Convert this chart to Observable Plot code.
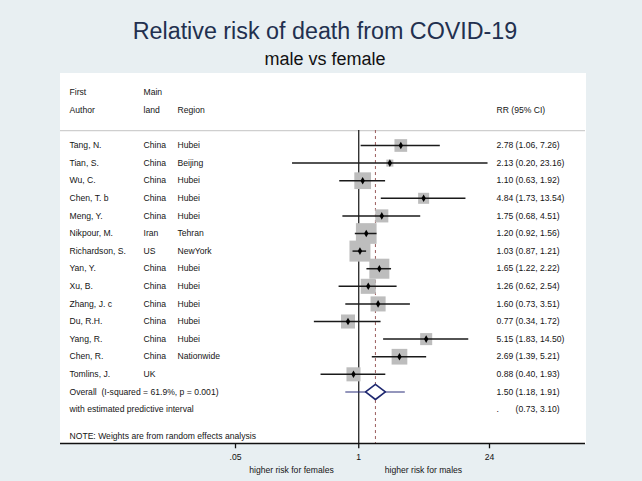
<!DOCTYPE html>
<html><head><meta charset="utf-8">
<script src="https://cdn.jsdelivr.net/npm/d3@7"></script>
<script src="https://cdn.jsdelivr.net/npm/@observablehq/plot@0.6"></script>
<style>
html,body{margin:0;padding:0;background:#e8eff2;}
#wrap{width:642px;height:481px;position:relative;overflow:hidden;font-family:"Liberation Sans",Arial,sans-serif;}
#head{height:73px;position:relative;}
#title{position:absolute;left:4px;width:642px;top:19.5px;line-height:23px;font-size:23.3px;text-align:center;color:#22304f;white-space:nowrap;}
#subtitle{position:absolute;left:4px;width:642px;top:50px;line-height:18px;font-size:18px;text-align:center;color:#111;white-space:nowrap;}
svg text{white-space:pre;}
</style>
</head><body>
<div id="wrap">
  <div id="head">
    <div id="title">Relative risk of death from COVID-19</div>
    <div id="subtitle">male vs female</div>
  </div>
  <div id="chart"></div>
</div>
<script>
// ---- data ----
const authors  = ["Tang, N.","Tian, S.","Wu, C.","Chen, T. b","Meng, Y.","Nikpour, M.","Richardson, S.","Yan, Y.","Xu, B.","Zhang, J. c","Du, R.H.","Yang, R.","Chen, R.","Tomlins, J."];
const mainland = ["China","China","China","China","China","Iran","US","China","China","China","China","China","China","UK"];
const regions  = ["Hubei","Beijing","Hubei","Hubei","Hubei","Tehran","NewYork","Hubei","Hubei","Hubei","Hubei","Hubei","Nationwide",""];
const rr       = [2.78,2.13,1.10,4.84,1.75,1.20,1.03,1.65,1.26,1.60,0.77,5.15,2.69,0.88];
const ciLow    = [1.06,0.20,0.63,1.73,0.68,0.92,0.87,1.22,0.62,0.73,0.34,1.83,1.39,0.40];
const ciHigh   = [7.26,23.16,1.92,13.54,4.51,1.56,1.21,2.22,2.54,3.51,1.72,14.50,5.21,1.93];
const weights  = [4.9,1.5,8.5,3.7,5.2,13.0,13.4,12.2,6.9,6.9,6.0,4.4,7.5,6.0];
const overallRR = 1.50, overallLow = 1.18, overallHigh = 1.91;
const predLow = 0.73, predHigh = 3.10;
const iSquared = "61.9%", pValue = "0.001";
const xTicks = [0.05, 1, 24];
const xTickLabels = [".05", "1", "24"];
const leftLabel = "higher risk for females", rightLabel = "higher risk for males";

// ---- layout (row indices) ----
const rowFirst = -3, rowAuthor = -2, rowSep = -0.85;
const rowOverall = authors.length, rowPred = authors.length + 1, rowNote = authors.length + 2.5;
const yTop = -4.09, yBottom = 16.93, tickLen = 0.3;
const col = {author: 9, land: 83, region: 117, rr: 436};

const f2 = v => v.toFixed(2);
const rows = authors.map((a, i) => ({
  i, author: a, land: mainland[i], region: regions[i],
  rr: rr[i], lo: ciLow[i], hi: ciHigh[i], w: weights[i],
  label: `${f2(rr[i])} (${f2(ciLow[i])}, ${f2(ciHigh[i])})`
}));
const half = 0.43;
const diamond = [
  {x: overallLow, y: rowOverall},
  {x: overallRR, y: rowOverall - half},
  {x: overallHigh, y: rowOverall},
  {x: overallRR, y: rowOverall + half},
  {x: overallLow, y: rowOverall}
];
const extraRows = [
  {y: rowOverall, text: `Overall  (I-squared = ${iSquared}, p = ${pValue})`, rr: `${f2(overallRR)} (${f2(overallLow)}, ${f2(overallHigh)})`},
  {y: rowPred, text: "with estimated predictive interval", rr: ".\u2007\u2007\u2007 " + `(${f2(predLow)}, ${f2(predHigh)})`},
  {y: rowNote, text: "NOTE: Weights are from random effects analysis", rr: ""}
];
const headers = [
  {y: rowFirst, dx: col.author, text: "First"},
  {y: rowFirst, dx: col.land, text: "Main"},
  {y: rowAuthor, dx: col.author, text: "Author"},
  {y: rowAuthor, dx: col.land, text: "land"},
  {y: rowAuthor, dx: col.region, text: "Region"},
  {y: rowAuthor, dx: col.rr, text: "RR (95% CI)"}
];
const ticks = xTicks.map((t, i) => ({x: t, label: xTickLabels[i]}));

const txt = (data, opts) => Plot.text(data, {frameAnchor: "left", textAnchor: "start", fill: "#151515", ...opts});

// log scale: x(1) at 358px, 41.14px per natural-log unit
const pxPerLn = 41.14, x1px = 358.25;
const xDomain = [0.01, 100];
const xRange = xDomain.map(d => x1px + pxPerLn * Math.log(d));

const chart = Plot.plot({
  width: 642, height: 408,
  marginLeft: 60, marginRight: 57, marginTop: 0, marginBottom: 38,
  style: {background: "transparent", fontFamily: "'Liberation Sans', Arial, sans-serif", fontSize: "8.6px", color: "#111", overflow: "visible"},
  x: {type: "log", domain: xDomain, range: xRange, axis: null},
  y: {domain: [yTop, yBottom], reverse: true, axis: null},
  r: {type: "sqrt", domain: [0, 13.4], range: [0, 11.85]},
  marks: [
    Plot.frame({fill: "white", stroke: "white"}),
    Plot.ruleY([rowSep], {stroke: "#cfcfcf", strokeWidth: 1.2}),
    Plot.ruleX([1], {y1: rowSep, y2: yBottom, stroke: "#111", strokeWidth: 1.2}),
    Plot.ruleX([overallRR], {y1: rowSep, y2: yBottom, stroke: "#9a5c5c", strokeWidth: 1, strokeDasharray: "3,3"}),
    Plot.dot(rows, {x: "rr", y: "i", r: "w", symbol: "square", fill: "#bdbdbd", stroke: "none"}),
    Plot.ruleY(rows, {y: "i", x1: "lo", x2: "hi", stroke: "#1a1a1a", strokeWidth: 1.5}),
    Plot.dot(rows, {x: "rr", y: "i", r: 2.3, symbol: "diamond", fill: "#000", stroke: "none"}),
    Plot.ruleY([rowOverall], {x1: predLow, x2: predHigh, stroke: "#2a2f7a", strokeWidth: 1.1}),
    Plot.line(diamond, {x: "x", y: "y", fill: "white", stroke: "#1f2870", strokeWidth: 1.6}),
    // x axis: baseline, ticks, labels
    Plot.ruleY([yBottom], {stroke: "#111", strokeWidth: 1.3}),
    Plot.ruleX(ticks, {x: "x", y1: yBottom, y2: yBottom + tickLen, stroke: "#111", strokeWidth: 1.3}),
    Plot.text(ticks, {x: "x", text: "label", frameAnchor: "bottom", dy: 16, fill: "#111"}),
    // table text
    ...headers.map(h => txt([h], {y: "y", text: "text", dx: h.dx})),
    txt(rows, {y: "i", text: "author", dx: col.author}),
    txt(rows, {y: "i", text: "land", dx: col.land}),
    txt(rows, {y: "i", text: "region", dx: col.region}),
    txt(rows, {y: "i", text: "label", dx: col.rr}),
    txt(extraRows, {y: "y", text: "text", dx: col.author}),
    txt(extraRows, {y: "y", text: "rr", dx: col.rr}),
    Plot.text([leftLabel], {x: 1, frameAnchor: "bottom", textAnchor: "end", dx: -25, dy: 29, fill: "#151515"}),
    Plot.text([rightLabel], {x: 1, frameAnchor: "bottom", textAnchor: "start", dx: 26, dy: 29, fill: "#151515"})
  ]
});
document.getElementById("chart").appendChild(chart);
</script>
</body></html>
